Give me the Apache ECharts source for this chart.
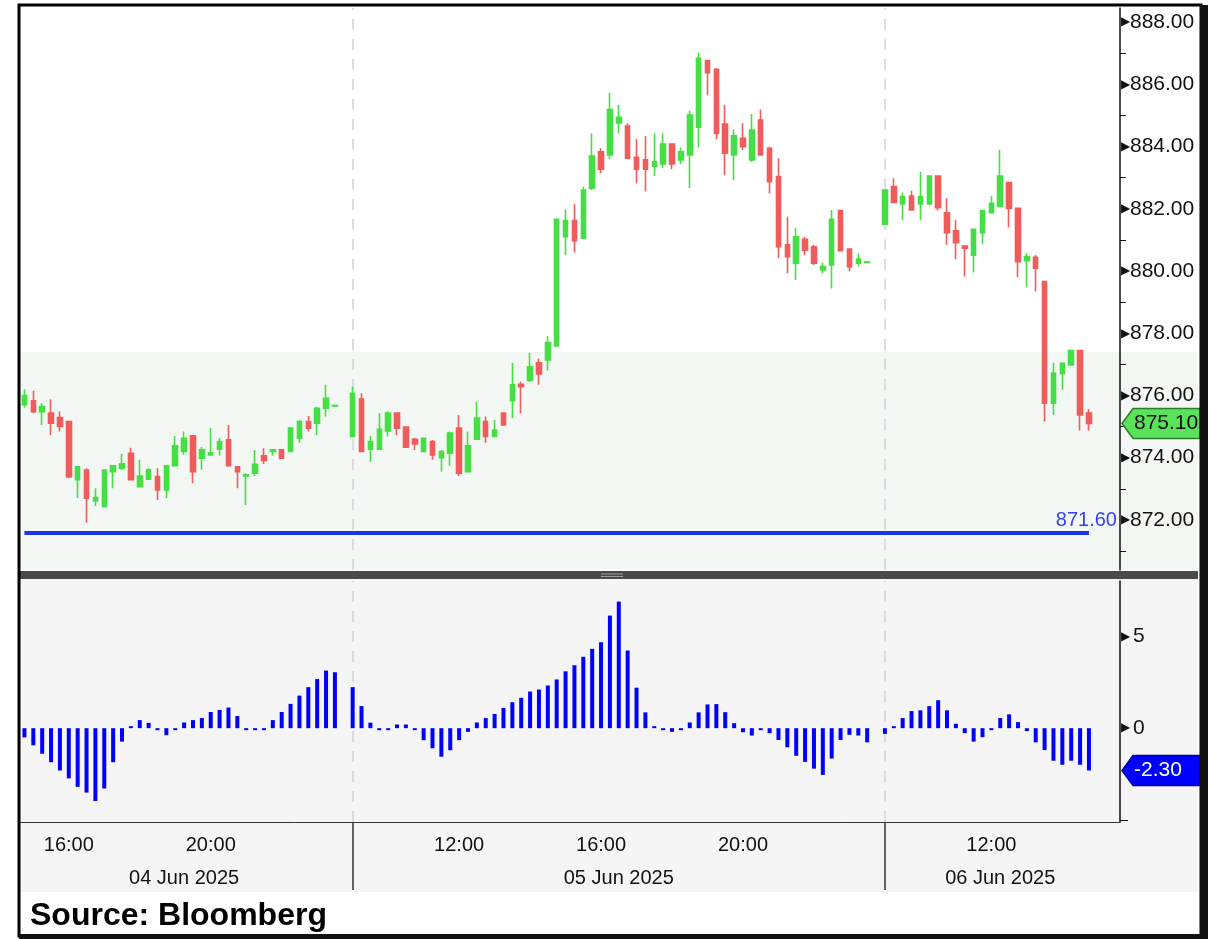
<!DOCTYPE html>
<html><head><meta charset="utf-8">
<script src="https://cdn.jsdelivr.net/npm/echarts@6/dist/echarts.min.js"></script>
<style>html,body{margin:0;padding:0;background:#fff;}#c{width:1212px;height:939px;}</style>
</head><body><div id="c"></div>
<script>
// ---------------- DATA ----------------
const sessions = [
  {date: '04 Jun 2025', start: '14:45', bars: 36},
  {date: '05 Jun 2025', start: '09:00', bars: 59},
  {date: '06 Jun 2025', start: '09:00', bars: 24}
];
// [open, close, low, high]
const ohlc04 = [
  [875.70,876.00,875.60,876.20],[875.83,875.48,875.43,876.15],[875.48,875.64,875.05,875.75],[875.43,875.11,874.73,875.88],
  [875.29,875.00,874.84,875.48],[875.16,873.39,873.34,875.16],[873.29,873.71,872.70,873.71],[873.60,872.70,871.91,873.66],
  [872.61,872.72,872.45,873.02],[872.43,873.60,872.40,873.60],[873.55,873.74,873.02,873.74],[873.66,873.80,873.60,874.12],
  [874.14,873.29,873.29,874.32],[873.07,873.41,873.07,873.93],[873.31,873.61,873.29,873.66],[873.39,872.96,872.64,873.66],
  [872.96,873.74,872.70,873.77],[873.74,874.38,873.74,874.70],[874.20,874.62,874.09,874.84],[874.70,873.55,873.18,874.70],
  [873.98,874.25,873.61,874.34],[874.09,874.16,874.09,874.95],[874.27,874.52,874.06,874.62],[874.57,873.74,873.71,875.05],
  [873.71,873.55,873.02,873.71],[873.41,873.45,872.48,873.50],[873.50,873.79,873.41,874.25],[874.06,873.91,873.80,874.30],
  [874.20,874.25,874.06,874.25],[874.25,873.98,873.98,874.27],[874.20,874.95,874.20,874.95],[874.62,875.16,874.48,875.21],
  [875.16,874.95,874.84,875.34],[875.11,875.59,874.73,875.64],[875.59,875.91,875.32,876.34],[875.66,875.68,875.66,875.68]
];
const ohlc05 = [
  [874.68,876.07,874.65,876.28],[875.88,874.20,874.20,876.07],[874.27,874.52,873.87,874.70],[874.27,874.91,874.25,875.43],
  [874.86,875.43,874.68,875.48],[875.43,874.95,874.73,875.45],[874.98,874.34,874.34,874.98],[874.59,874.44,874.25,874.64],
  [874.20,874.62,874.20,874.62],[874.52,874.09,873.93,874.57],[874.00,874.20,873.55,874.25],[874.14,874.79,873.74,874.84],
  [874.95,873.50,873.41,875.37],[873.55,874.38,873.55,874.84],[874.59,875.27,874.59,875.80],[875.16,874.68,874.48,875.32],
  [874.68,874.89,874.68,875.21],[875.43,875.05,875.05,875.45],[875.83,876.34,875.27,877.05],[876.36,876.28,875.43,876.44],
  [876.48,876.92,876.44,877.37],[877.05,876.69,876.34,877.19],[877.14,877.70,876.80,877.91],[877.59,881.66,877.59,881.66],
  [881.10,881.62,880.51,881.98],[881.62,880.97,880.59,882.15],[881.05,882.60,881.05,882.71],[882.66,883.69,882.60,884.42],
  [883.83,883.27,883.14,883.94],[883.73,885.19,883.59,885.73],[884.76,884.94,884.42,885.33],[884.66,883.62,883.62,884.75],
  [883.65,883.27,882.82,884.23],[883.57,883.27,882.55,884.34],[883.37,883.51,883.05,884.42],[883.44,884.08,883.30,884.42],
  [884.08,883.44,883.27,884.08],[883.57,883.83,883.44,883.97],[883.73,885.01,882.66,885.15],[884.62,886.83,883.97,887.01],
  [886.76,886.37,885.65,886.78],[886.48,884.42,884.23,886.51],[884.72,883.78,883.08,885.33],[883.73,884.34,882.92,884.55],
  [884.26,883.99,883.89,884.75],[883.57,884.53,883.51,885.04],[884.85,883.73,883.73,885.19],[883.94,882.87,882.50,883.99],
  [883.03,880.78,880.41,883.62],[880.84,880.46,879.93,881.74],[880.25,881.10,879.71,881.37],[881.02,880.67,880.51,881.10],
  [880.78,880.25,880.19,880.84],[880.03,880.14,879.93,880.27],[880.19,881.66,879.44,881.96],[881.94,880.65,880.65,881.94],
  [880.70,880.14,879.98,880.70],[880.25,880.38,880.14,880.57],[880.27,880.29,880.27,880.29]
];
const ohlc06 = [
  [881.50,882.60,881.50,882.60],[882.71,882.20,882.18,882.98],[882.15,882.39,881.64,882.52],[882.41,881.96,881.94,882.58],
  [882.15,882.39,881.64,883.19],[882.15,883.05,882.15,883.05],[883.05,882.03,881.94,883.05],[881.87,881.23,880.84,882.34],
  [881.29,880.91,880.38,881.64],[880.80,880.73,879.82,880.80],[880.51,881.34,879.95,881.34],[881.23,881.94,880.87,881.94],
  [881.87,882.17,881.87,882.41],[882.07,883.05,882.07,883.89],[882.84,882.01,881.40,882.87],[882.01,880.30,879.80,882.01],
  [880.33,880.46,879.48,880.57],[880.44,880.09,879.34,880.51],[879.66,875.75,875.16,879.66],[875.75,876.71,875.37,877.05],
  [876.71,877.03,876.18,877.05],[876.98,877.44,876.95,877.44],[877.44,875.37,874.87,877.44],[875.43,875.10,874.87,875.56]
];
const macd04 = [-0.50,-0.93,-1.39,-1.85,-2.30,-2.73,-3.19,-3.50,-3.96,-3.28,-1.85,-0.73,0.10,0.44,0.29,-0.05,-0.38,-0.05,
  0.31,0.44,0.55,0.88,0.99,1.12,0.66,-0.05,-0.05,-0.05,0.44,0.88,1.32,1.77,2.23,2.67,3.13,3.04];
const macd05 = [2.23,1.20,0.30,-0.05,-0.05,0.20,0.20,-0.05,-0.65,-1.09,-1.55,-1.20,-0.65,-0.20,0.31,0.55,0.77,1.10,1.41,1.65,
  1.99,2.10,2.32,2.65,3.09,3.42,3.88,4.31,4.67,6.12,6.88,4.22,2.20,0.86,0.07,-0.05,-0.20,-0.05,0.31,0.86,1.29,1.31,0.87,0.27,
  -0.22,-0.40,-0.05,-0.27,-0.64,-1.04,-1.50,-1.83,-2.20,-2.54,-1.65,-0.64,-0.36,-0.40,-0.77];
const macd06 = [-0.31,0.10,0.55,0.93,0.97,1.20,1.52,0.97,0.24,-0.27,-0.73,-0.49,-0.05,0.55,0.75,0.33,-0.16,-0.77,-1.19,
  -1.77,-1.99,-1.77,-1.99,-2.30];
const timeTickLabels = ['12:00', '16:00', '20:00'];
const priceTickLabels = [872, 874, 876, 878, 880, 882, 884, 886, 888];
const priceMinorTicks = [871, 873, 875, 877, 879, 881, 883, 885, 887];
const macdTickLabels = [0, 5];
const supportLevel = 871.60;
const shadeTop = 877.4;
const sourceText = 'Source: Bloomberg';

// ---------------- BUILD ----------------
const FONT = '"Liberation Sans", Arial, sans-serif';
const cats = [], ranges = [], ohlcAll = [], macdAll = [];
const perSession = [[ohlc04, macd04], [ohlc05, macd05], [ohlc06, macd06]];
sessions.forEach((s, si) => {
  let [h, m] = s.start.split(':').map(Number);
  const startIdx = cats.length;
  const extra = si < sessions.length - 1 ? 1 : 3;
  const [o, md] = perSession[si];
  for (let i = 0; i < s.bars + extra; i++) {
    cats.push(s.date + ' ' + String(h).padStart(2, '0') + ':' + String(m).padStart(2, '0'));
    m += 15; if (m >= 60) { m -= 60; h += 1; }
    if (i < s.bars) { ohlcAll.push(o[i]); macdAll.push(md[i]); }
    else { ohlcAll.push(['-', '-', '-', '-']); macdAll.push('-'); }
  }
  ranges.push({start: startIdx, end: cats.length - 1, last: startIdx + s.bars - 1, date: s.date});
});
const dateLabelIdx = {};
ranges.forEach(r => { dateLabelIdx[Math.floor((r.start + r.end + 1) / 2)] = r.date; });
const boundaryIdx = ranges.slice(1).map(r => r.start);
const lastIdx = ranges[ranges.length - 1].last;
const lastClose = ohlcAll[lastIdx][1];
const lastMacd = macdAll[lastIdx];

const L = 20, R = 92;
const chart = echarts.init(document.getElementById('c'));
const dashLine = {type: [11, 9], color: '#cfd2dc', width: 1.5};

chart.setOption({
  animation: false,
  backgroundColor: 'transparent',
  grid: [
    {left: L, right: R, top: 8, height: 562},
    {left: L, right: R, top: 581, height: 241}
  ],
  xAxis: [
    {type: 'category', gridIndex: 0, data: cats, boundaryGap: true, show: false},
    {type: 'category', gridIndex: 1, data: cats, boundaryGap: true, position: 'bottom',
      axisLine: {show: true, onZero: false, lineStyle: {color: '#333', width: 1}},
      axisTick: {show: false},
      axisLabel: {interval: (i, v) => timeTickLabels.includes(v.slice(-5)), formatter: v => v.slice(-5),
        color: '#111', fontSize: 20, fontFamily: FONT, margin: 13},
      splitLine: {show: false}},
    {type: 'category', gridIndex: 1, data: cats, boundaryGap: true, position: 'bottom',
      axisLine: {show: false, onZero: false},
      axisTick: {show: true, alignWithLabel: true, interval: (i) => boundaryIdx.includes(i), length: 68,
        lineStyle: {color: '#333', width: 1.5}},
      axisLabel: {interval: (i) => dateLabelIdx[i] !== undefined, formatter: (v, i) => dateLabelIdx[i] || '',
        color: '#111', fontSize: 20, fontFamily: FONT, margin: 46},
      splitLine: {show: false}}
  ],
  yAxis: [
    {type: 'value', gridIndex: 0, position: 'right', min: 870.39, max: 888.45, scale: true,
      axisLine: {show: true, lineStyle: {color: '#111', width: 1.5}},
      axisTick: {show: true, customValues: priceMinorTicks, length: 6, lineStyle: {color: '#111'}},
      axisLabel: {customValues: priceTickLabels, margin: 1, color: '#111', fontSize: 21, fontFamily: FONT,
        formatter: v => '{t|▶}' + v.toFixed(2),
        rich: {t: {fontSize: 12, color: '#111', padding: [0, 0, 0, 0]}}},
      splitLine: {show: false}},
    {type: 'value', gridIndex: 1, position: 'right', min: -5.1, max: 8.0,
      axisLine: {show: true, lineStyle: {color: '#111', width: 1.5}},
      axisTick: {show: true, customValues: [-5], length: 8, lineStyle: {color: '#111'}},
      axisLabel: {customValues: macdTickLabels, margin: 1, color: '#111', fontSize: 21, fontFamily: FONT,
        formatter: v => '{t|▶}' + v,
        rich: {t: {fontSize: 12, color: '#111', padding: [0, 3, 0, 0]}}},
      splitLine: {show: false}}
  ],
  series: [
    {type: 'candlestick', xAxisIndex: 0, yAxisIndex: 0, data: ohlcAll, barWidth: 5,
      itemStyle: {color: '#45df45', color0: '#f05c5c', borderColor: '#45df45', borderColor0: '#f05c5c', borderWidth: 1.6},
      markLine: {silent: true, symbol: 'none', animation: false, z: 1,
        data: [
          ...boundaryIdx.map(i => ({xAxis: cats[i], lineStyle: dashLine, label: {show: false}})),
          [{coord: [cats[0], supportLevel]}, {coord: [cats[lastIdx], supportLevel],
            lineStyle: {color: '#1f34e8', width: 4, type: 'solid'},
            label: {show: true, position: 'insideEndTop', formatter: supportLevel.toFixed(2), color: '#3344ee',
              fontSize: 20, fontFamily: FONT, distance: 2, offset: [30, 0]}}]
        ]}
    },
    {type: 'bar', xAxisIndex: 1, yAxisIndex: 1, data: macdAll, barWidth: 4, barMinHeight: 2,
      itemStyle: {color: '#0000ff'},
      markLine: {silent: true, symbol: 'none', animation: false, z: 1,
        data: boundaryIdx.map(i => ({xAxis: cats[i], lineStyle: dashLine, label: {show: false}}))}
    }
  ]
});

// ---------------- DECORATION ----------------
const yShade = chart.convertToPixel({yAxisIndex: 0}, shadeTop);
const yClose = chart.convertToPixel({yAxisIndex: 0}, lastClose);
const yMacd = chart.convertToPixel({yAxisIndex: 1}, lastMacd);
function tag(y, fill, stroke, txt, txtColor) {
  return [
    {type: 'polygon', shape: {points: [[1122, y], [1133, y - 15], [1200, y - 15], [1200, y + 15], [1133, y + 15]]},
      style: {fill: fill, stroke: stroke, lineWidth: 1.5}, z: 60},
    {type: 'text', x: 1134, y: y, style: {text: txt, fill: txtColor, font: '21px ' + FONT, verticalAlign: 'middle'}, z: 61}
  ];
}
chart.setOption({
  graphic: [
    {type: 'rect', shape: {x: L, y: yShade, width: 1178, height: 570 - yShade}, style: {fill: '#f4f8f4'}, z: -20},
    {type: 'rect', shape: {x: L, y: 579, width: 1178, height: 313}, style: {fill: '#f5f5f5'}, z: -20},
    {type: 'rect', shape: {x: L, y: 571, width: 1178, height: 8}, style: {fill: '#4a4a4a'}, z: 50},
    {type: 'line', shape: {x1: 601, y1: 574, x2: 623, y2: 574}, style: {stroke: '#9a9a9a', lineWidth: 1}, z: 51},
    {type: 'line', shape: {x1: 601, y1: 576.5, x2: 623, y2: 576.5}, style: {stroke: '#9a9a9a', lineWidth: 1}, z: 51},
    ...tag(yClose, '#5be25b', '#2b7d2b', lastClose.toFixed(2), '#111'),
    ...tag(yMacd, '#0000ff', '#0000a0', lastMacd.toFixed(2), '#fff'),
    {type: 'text', x: 30, y: 916, style: {text: sourceText, fill: '#000', font: 'bold 32px ' + FONT, verticalAlign: 'middle'}, z: 60},
    {type: 'rect', shape: {x: 19, y: 5, width: 1182, height: 931}, style: {fill: 'none', stroke: '#000', lineWidth: 3}, z: 70},
    {type: 'rect', shape: {x: 1200, y: 5, width: 8, height: 934}, style: {fill: '#111'}, z: 70},
    {type: 'rect', shape: {x: 19, y: 934, width: 1189, height: 5}, style: {fill: '#111'}, z: 70}
  ]
});
</script></body></html>
